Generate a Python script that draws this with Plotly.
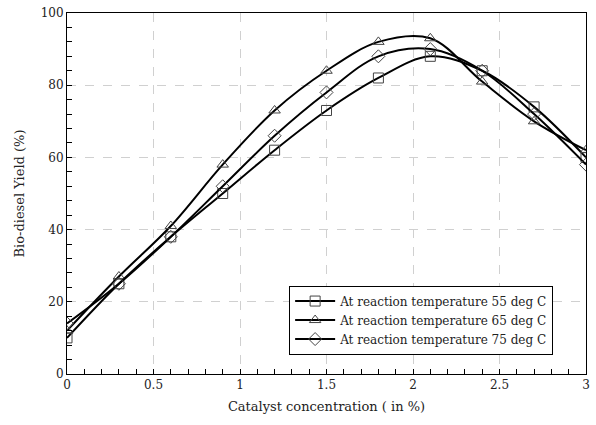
import plotly.graph_objects as go

catalyst = [0, 0.3, 0.6, 0.9, 1.2, 1.5, 1.8, 2.1, 2.4, 2.7, 3.0]
yield_55 = [10, 25, 38, 50, 62, 73, 82, 88, 84, 74, 60]
yield_65 = [12, 27, 41, 58, 73, 84, 92, 93, 81, 70, 62]
yield_75 = [14, 25, 38, 52, 66, 78, 88, 90, 84, 72, 58]
names = ["At reaction temperature 55 deg C",
         "At reaction temperature 65 deg C",
         "At reaction temperature 75 deg C"]
symbols = ["square-open", "triangle-up-open", "diamond-open"]

fig = go.Figure()
for ys, nm, sym in zip([yield_55, yield_65, yield_75], names, symbols):
    fig.add_trace(go.Scatter(
        x=catalyst, y=ys, name=nm, mode="lines+markers",
        line=dict(color="black", width=2, shape="spline", smoothing=1.0),
        marker=dict(symbol=sym, size=10, color="#444",
                    line=dict(color="#333", width=1)),
    ))

font = "DejaVu Serif"
fig.update_layout(
    width=596, height=425,
    margin=dict(l=67, r=10, t=13, b=51, autoexpand=False),
    paper_bgcolor="white", plot_bgcolor="white",
    font=dict(family=font, size=12, color="#222"),
    showlegend=True,
    legend=dict(x=0.428, y=0.245, xanchor="left", yanchor="top",
                bgcolor="white", bordercolor="black", borderwidth=1,
                itemwidth=40,
                font=dict(size=12, family=font)),
)
fig.update_xaxes(
    range=[0, 3], dtick=0.5, automargin=False,
    showline=True, linecolor="black", linewidth=1, mirror=True,
    ticks="inside", ticklen=5, tickcolor="black",
    minor=dict(dtick=0.1, ticks="inside", ticklen=5, tickcolor="black", showgrid=False),
    showgrid=True, gridcolor="#d0d0d0", griddash="dash", zeroline=False,
    title=dict(text="Catalyst concentration ( in %)", font=dict(size=13), standoff=10),
)
fig.update_yaxes(
    range=[0, 100], dtick=20, automargin=False,
    showline=True, linecolor="black", linewidth=1, mirror=True,
    ticks="inside", ticklen=5, tickcolor="black",
    minor=dict(dtick=4, ticks="inside", ticklen=5, tickcolor="black", showgrid=False),
    showgrid=True, gridcolor="#d0d0d0", griddash="dash", zeroline=False,
    title=dict(text="Bio-diesel Yield (%)", font=dict(size=13), standoff=13),
)
fig.write_html("out.html")
